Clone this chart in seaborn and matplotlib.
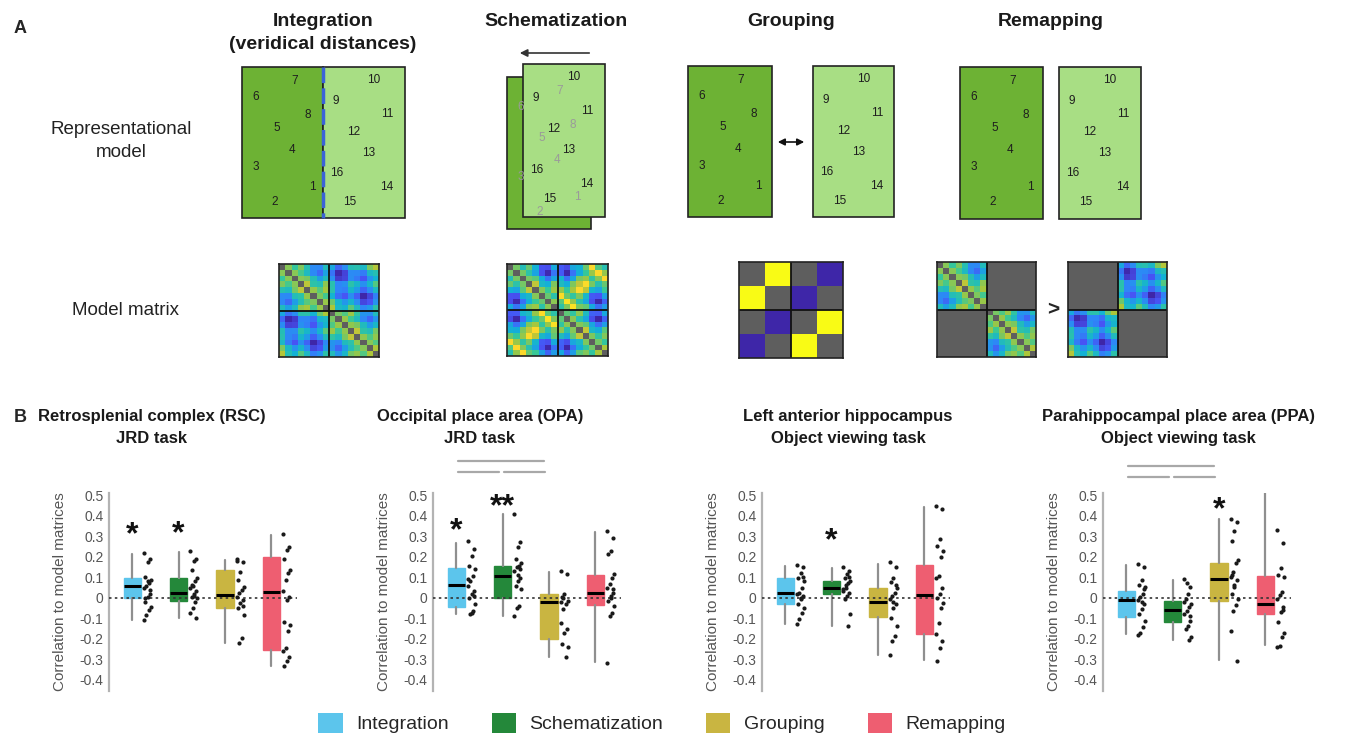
import numpy as np
import pandas as pd
import matplotlib
matplotlib.use("Agg")
import matplotlib.pyplot as plt
import seaborn as sns
from matplotlib.patches import Rectangle, Patch
from matplotlib.colors import LinearSegmentedColormap

sns.set_theme(style="white")
plt.rcParams["font.family"] = ["Liberation Sans", "DejaVu Sans"]

W, H = 1357, 737

# === Data ===
model_names = ["Integration", "Schematization", "Grouping", "Remapping"]
model_colors = ["#5cc5ec", "#24883a", "#c9b541", "#ee5e71"]

# object layout inside each area of the city drawing (area is 82 x 151)
left_ids = [1, 2, 3, 4, 5, 6, 7, 8]
left_x = [70, 33, 14, 50, 35, 14, 53, 66]
left_y = [120, 135, 100, 83, 61, 30, 14, 48]
right_ids = [9, 10, 11, 12, 13, 14, 15, 16]
right_x = [13, 51, 64, 31, 46, 64, 27, 14]
right_y = [34, 13, 47, 65, 86, 120, 135, 106]
area_width = 82

grouping_matrix = [[np.nan, 1, np.nan, 0],
                   [1, np.nan, 0, np.nan],
                   [np.nan, 0, np.nan, 1],
                   [0, np.nan, 1, np.nan]]

roi_titles = ["Retrosplenial complex (RSC)\nJRD task",
              "Occipital place area (OPA)\nJRD task",
              "Left anterior hippocampus\nObject viewing task",
              "Parahippocampal place area (PPA)\nObject viewing task"]

ytick_values = [0.5, 0.4, 0.3, 0.2, 0.1, 0, -0.1, -0.2, -0.3, -0.4]
ytick_labels = ["0.5", "0.4", "0.3", "0.2", "0.1", "0", "-0.1", "-0.2", "-0.3", "-0.4"]

# box stats per model: [lower whisker, q1, median, q3, upper whisker]
rsc_boxes = [[-0.109, -0.003, 0.058, 0.094, 0.215],
             [-0.100, -0.016, 0.024, 0.094, 0.224],
             [-0.219, -0.052, 0.013, 0.135, 0.183],
             [-0.335, -0.255, 0.029, 0.200, 0.305]]
rsc_points = [[0.22, 0.19, 0.175, 0.10, 0.085, 0.07, 0.058, 0.045, 0.02, 0.005, -0.02, -0.045, -0.06, -0.085, -0.11, 0.035, 0.08, 0.0],
              [0.227, 0.19, 0.178, 0.135, 0.094, 0.08, 0.058, 0.045, 0.03, 0.016, 0.005, -0.003, -0.02, -0.05, -0.076, -0.10, 0.01, 0.06],
              [0.188, 0.175, 0.126, 0.086, 0.053, 0.037, 0.021, 0.005, -0.011, -0.028, -0.052, -0.084, -0.195, -0.222, 0.18, -0.04],
              [0.31, 0.248, 0.232, 0.19, 0.135, 0.122, 0.086, 0.03, 0.005, -0.011, -0.117, -0.133, -0.165, -0.246, -0.262, -0.287, -0.311, -0.335]]
rsc_stars = ["*", "*", "", ""]
rsc_star_y = [0.355, 0.36, 0, 0]
rsc_sig = []

opa_boxes = [[-0.081, -0.044, 0.062, 0.143, 0.265],
             [-0.090, 0.000, 0.106, 0.155, 0.407],
             [-0.290, -0.200, -0.020, 0.020, 0.125],
             [-0.314, -0.037, 0.024, 0.110, 0.322]]
opa_points = [[0.277, 0.236, 0.204, 0.155, 0.138, 0.106, 0.081, 0.057, 0.033, 0.016, 0.0, -0.033, -0.065, -0.081, 0.09, 0.01, -0.075],
              [0.41, 0.269, 0.248, 0.187, 0.171, 0.155, 0.147, 0.13, 0.098, 0.081, 0.057, 0.041, -0.041, -0.049, -0.09, 0.14, 0.11],
              [0.13, 0.117, 0.02, 0.003, -0.016, -0.033, -0.057, -0.122, -0.155, -0.171, -0.228, -0.241, -0.29, 0.0, -0.02],
              [0.326, 0.293, 0.228, 0.215, 0.114, 0.098, 0.065, 0.049, 0.024, 0.008, -0.016, -0.041, -0.073, -0.09, -0.318, 0.04, 0.0]]
opa_stars = ["*", "**", "", ""]
opa_star_y = [0.375, 0.49, 0, 0]
opa_sig = [(0, 2, 0.665), (0, 1, 0.612), (1, 2, 0.612)]

hip_boxes = [[-0.127, -0.033, 0.024, 0.098, 0.155],
             [-0.136, 0.016, 0.049, 0.082, 0.144],
             [-0.278, -0.095, -0.021, 0.046, 0.163],
             [-0.306, -0.175, 0.013, 0.160, 0.444]]
hip_points = [[0.16, 0.147, 0.122, 0.098, 0.082, 0.049, 0.025, 0.016, 0.008, -0.008, -0.033, -0.049, -0.073, -0.106, -0.127, 0.1, 0.0],
              [0.147, 0.131, 0.114, 0.098, 0.082, 0.069, 0.049, 0.041, 0.025, 0.008, -0.008, -0.078, -0.136, 0.06, 0.03, 0.1],
              [0.172, 0.147, 0.098, 0.074, 0.049, 0.025, 0.008, -0.008, -0.033, -0.049, -0.098, -0.139, -0.188, -0.209, -0.278, 0.06, -0.02],
              [0.449, 0.433, 0.286, 0.253, 0.229, 0.196, 0.106, 0.098, 0.049, 0.016, 0.0, -0.025, -0.049, -0.123, -0.176, -0.209, -0.245, -0.307]]
hip_stars = ["", "*", "", ""]
hip_star_y = [0, 0.324, 0, 0]
hip_sig = []

ppa_boxes = [[-0.175, -0.096, -0.013, 0.033, 0.160],
             [-0.206, -0.120, -0.059, -0.016, 0.086],
             [-0.306, -0.016, 0.089, 0.171, 0.382],
             [-0.232, -0.079, -0.030, 0.105, 0.510]]
ppa_points = [[0.165, 0.148, 0.086, 0.061, 0.053, 0.02, 0.003, -0.013, -0.03, -0.054, -0.079, -0.112, -0.145, -0.17, -0.183, 0.04, -0.02],
              [0.089, 0.053, 0.02, -0.005, -0.03, -0.046, -0.063, -0.079, -0.112, -0.137, -0.153, -0.194, -0.208, 0.07, -0.02, -0.09],
              [0.385, 0.369, 0.325, 0.275, 0.185, 0.168, 0.127, 0.102, 0.086, 0.053, 0.02, -0.005, -0.038, -0.063, -0.165, -0.31, 0.06, 0.11],
              [0.33, 0.267, 0.143, 0.11, 0.102, 0.028, 0.012, -0.005, -0.046, -0.071, -0.12, -0.17, -0.194, -0.236, -0.24, -0.06]]
ppa_stars = ["", "", "*", ""]
ppa_star_y = [0, 0, 0.473, 0]
ppa_sig = [(0, 2, 0.641), (0, 1, 0.588), (1, 2, 0.588)]

# === Helpers ===
parula = LinearSegmentedColormap.from_list("parula", [
    (0.2422, 0.1504, 0.6603), (0.2810, 0.3228, 0.9579), (0.1786, 0.5289, 0.9682),
    (0.0689, 0.6948, 0.8394), (0.2161, 0.7843, 0.5923), (0.6720, 0.7793, 0.2227),
    (0.9970, 0.7659, 0.2199), (0.9769, 0.9839, 0.0805)])


def px_rect(x, y, w, h):
    return [x / W, 1 - (y + h) / H, w / W, h / H]


def similarity(xs, ys):
    xs, ys = np.asarray(xs, float), np.asarray(ys, float)
    d = np.hypot(xs[:, None] - xs[None, :], ys[:, None] - ys[None, :])
    s = 1 - d / d.max()
    s[np.eye(len(xs), dtype=bool)] = np.nan
    return s


sim_integration = similarity(left_x + [x + area_width for x in right_x], left_y + right_y)
sim_schematization = similarity(left_x + right_x, left_y + right_y)
block = np.zeros((16, 16), dtype=bool)
block[:8, :8] = True
block[8:, 8:] = True
sim_remap_within = np.where(block, sim_integration, np.nan)
sim_remap_between = np.where(block, np.nan, sim_integration)

fig = plt.figure(figsize=(W / 100, H / 100), dpi=100)
ax0 = fig.add_axes([0, 0, 1, 1])
ax0.set_xlim(0, W)
ax0.set_ylim(H, 0)
ax0.axis("off")

dark_green = "#6db234"
light_green = "#a8de84"
num_kw = dict(ha="center", va="center", fontsize=8.5, color="#1e1e1e")


def draw_area(x0, y0, w, h, color, ids, xs, ys, with_numbers=True):
    ax0.add_patch(Rectangle((x0, y0), w, h, facecolor=color, edgecolor="#222222", lw=1.2))
    if with_numbers:
        for i, x, y in zip(ids, xs, ys):
            ax0.text(x0 + x, y0 + y, str(i), **num_kw)


# --- Panel A: representational models ---
ax0.text(14, 33, "A", fontsize=13, fontweight="bold", va="baseline")
ax0.text(121, 134, "Representational", fontsize=13.5, ha="center", va="baseline", color="#222")
ax0.text(121, 157, "model", fontsize=13.5, ha="center", va="baseline", color="#222")
ax0.text(125, 315, "Model matrix", fontsize=13.5, ha="center", va="baseline", color="#222")

title_kw = dict(fontsize=14, fontweight="bold", ha="center", va="baseline", color="#1a1a1a")
ax0.text(323, 26, "Integration", **title_kw)
ax0.text(323, 49, "(veridical distances)", **title_kw)
ax0.text(556, 26, "Schematization", **title_kw)
ax0.text(791, 26, "Grouping", **title_kw)
ax0.text(1051, 26, "Remapping", **title_kw)

# integration: both areas side by side
draw_area(242, 67, 81, 151, dark_green, left_ids, left_x, left_y)
draw_area(323, 67, 82, 151, light_green, right_ids, right_x, right_y)
ax0.plot([323, 323], [67, 218], color="#3b63d8", lw=2.5, ls=(0, (4.5, 1.5)))

# schematization: left area slid onto the right one
draw_area(507, 77, 84, 152, dark_green, left_ids, left_x, left_y, with_numbers=False)
draw_area(523, 64, 82, 153, light_green, right_ids, right_x, right_y)
for i, x, y in zip(left_ids, left_x, left_y):
    ax0.text(507 + x, 77 + y, str(i), **{**num_kw, "color": "#9a9a9a"})
ax0.annotate("", xy=(517, 53), xytext=(592, 53),
             arrowprops=dict(arrowstyle="-|>", color="#333333", lw=1.2, mutation_scale=11))

# grouping
draw_area(688, 66, 84, 151, dark_green, left_ids, left_x, left_y)
draw_area(813, 66, 81, 151, light_green, right_ids, right_x, right_y)
ax0.annotate("", xy=(807, 142), xytext=(775, 142),
             arrowprops=dict(arrowstyle="<|-|>", color="#111111", lw=1.2, mutation_scale=10))

# remapping
draw_area(960, 67, 83, 152, dark_green, left_ids, left_x, left_y)
draw_area(1059, 67, 82, 152, light_green, right_ids, right_x, right_y)

# --- model matrices ---
matrices = [(sim_integration, (279, 264, 100, 93), 8, 1.12),
            (sim_schematization, (507, 264, 101, 92), 8, 1.05),
            (np.array(grouping_matrix, float), (739, 262, 104, 96), 2, 1.0),
            (sim_remap_within, (937, 262, 99, 95), 8, 1.12),
            (sim_remap_between, (1068, 262, 99, 95), 8, 1.12)]
for mat, rect, mid, top in matrices:
    hax = fig.add_axes(px_rect(*rect))
    sns.heatmap(mat, mask=np.isnan(mat), cmap=parula, vmin=0, vmax=top, cbar=False,
                xticklabels=False, yticklabels=False, ax=hax)
    hax.set_facecolor("#5e5e5e")
    hax.axhline(mid, color="#111111", lw=1.3)
    hax.axvline(mid, color="#111111", lw=1.3)
    for sp in hax.spines.values():
        sp.set_visible(True)
        sp.set_color("#222222")
        sp.set_linewidth(1.2)
ax0.text(1053, 310, ">", fontsize=15, fontweight="bold", ha="center", va="center")

# --- Panel B: boxplots per ROI ---
ax0.text(14, 422, "B", fontsize=13, fontweight="bold", va="baseline")

rois = [(rsc_boxes, rsc_points, rsc_stars, rsc_star_y, rsc_sig),
        (opa_boxes, opa_points, opa_stars, opa_star_y, opa_sig),
        (hip_boxes, hip_points, hip_stars, hip_star_y, hip_sig),
        (ppa_boxes, ppa_points, ppa_stars, ppa_star_y, ppa_sig)]
axis_left = [109, 433, 762, 1103]
title_x = [152, 480, 848, 1178]

for k, (boxes, points, stars, star_y, sig) in enumerate(rois):
    ax = fig.add_axes(px_rect(axis_left[k], 493, 188, 198))
    stats = [dict(whislo=b[0], q1=b[1], med=b[2], q3=b[3], whishi=b[4], fliers=[]) for b in boxes]
    bp = ax.bxp(stats, positions=range(4), widths=0.37, patch_artist=True, showfliers=False,
                showcaps=False, whiskerprops=dict(color="#8f8f8f", lw=1.6),
                medianprops=dict(color="black", lw=2.2))
    for patch, c in zip(bp["boxes"], model_colors):
        patch.set_facecolor(c)
        patch.set_edgecolor(c)

    rows = []
    for m, vals in enumerate(points):
        for j, v in enumerate(vals):
            rows.append({"x": m + 0.33 + ((j * 5) % 7 - 3) * 0.025, "y": v})
    df = pd.DataFrame(rows)
    sns.scatterplot(data=df, x="x", y="y", color="#1a1a1a", s=9, linewidth=0, ax=ax,
                    legend=False, zorder=5)

    ax.axhline(0, color="#333333", lw=1.2, ls=(0, (1.5, 2)), zorder=4)
    for m, s in enumerate(stars):
        if s:
            ax.annotate(s, (m, star_y[m]), xytext=(0, -13), textcoords="offset points",
                        ha="center", va="baseline", fontsize=23, fontweight="bold",
                        color="#111111", annotation_clip=False)
    for a, b, yl in sig:
        ax.plot([a + 0.03, b - 0.1 if b - a > 1 else b - 0.08], [yl, yl], color="#a8a8a8",
                lw=1.6, clip_on=False)

    ax.set_xlim(-0.5, 3.55)
    ax.set_ylim(-0.455, 0.51)
    ax.set_xticks([])
    ax.set_yticks(ytick_values)
    ax.set_yticklabels(ytick_labels)
    ax.tick_params(axis="y", length=0, pad=4, labelsize=10, labelcolor="#555555")
    ax.set_xlabel("")
    ax.set_ylabel("Correlation to model matrices", fontsize=11, color="#555555")
    ax.yaxis.set_label_coords(-0.225, 0.5)
    sns.despine(ax=ax, bottom=True)
    ax.spines["left"].set_color("#b3b3b3")
    ax.spines["left"].set_linewidth(1.6)
    ax.patch.set_alpha(0)

    line1, line2 = roi_titles[k].split("\n")
    tkw = dict(fontsize=12, fontweight="bold", ha="center", va="center", color="#1a1a1a")
    ax0.text(title_x[k], 416, line1, **tkw)
    ax0.text(title_x[k], 438, line2, **tkw)

handles = [Patch(facecolor=c, edgecolor="none") for c in model_colors]
fig.legend(handles, model_names, loc="center", bbox_to_anchor=(662 / W, 1 - 723 / H), ncol=4,
           frameon=False, fontsize=14, handlelength=1.25, handleheight=1.25,
           handletextpad=0.7, columnspacing=2.2)

fig.savefig("out.png", dpi=100)
